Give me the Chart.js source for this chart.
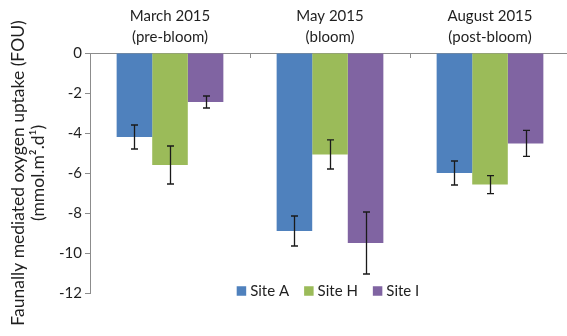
<!DOCTYPE html>
<html>
<head>
<meta charset="utf-8">
<script src="https://cdn.jsdelivr.net/npm/chart.js@4/dist/chart.umd.min.js"></script>
<style>
  html, body { margin: 0; padding: 0; overflow: hidden; background: #fff; }
  #wrap { width: 570px; height: 336px; position: relative; }
</style>
</head>
<body>
<div id="wrap"><canvas id="c"></canvas></div>
<script>
// Sampling periods (two-line labels above the bars)
const periods = [["March 2015", "(pre-bloom)"], ["May 2015", "(bloom)"], ["August 2015", "(post-bloom)"]];
const sites = ["Site A", "Site H", "Site I"];
const siteColors = ["#4F81BD", "#9BBB59", "#8064A2"];

// Faunally mediated oxygen uptake, mean per site and period
const siteA = [-4.2, -8.9, -6.0];
const siteH = [-5.6, -5.07, -6.58];
const siteI = [-2.45, -9.5, -4.52];

// Error bar half-widths (same units)
const errA = [0.6, 0.75, 0.6];
const errH = [0.95, 0.73, 0.45];
const errI = [0.3, 1.55, 0.65];

const yTicks = [0, -2, -4, -6, -8, -10, -12];

const FONT = "Lato, 'Open Sans', sans-serif";
const TEXT = "#1f1f1f";
const AXIS = "#8c8c8c";

const values = [siteA, siteH, siteI];
const errors = [errA, errH, errI];

// Whiskers drawn on top of each bar
const errorBars = {
  id: 'errorBars',
  afterDatasetsDraw(chart) {
    const ctx = chart.ctx;
    const y = chart.scales.y;
    ctx.save();
    ctx.strokeStyle = "#1a1a1a";
    ctx.lineWidth = 1.3;
    chart.data.datasets.forEach((ds, di) => {
      const meta = chart.getDatasetMeta(di);
      meta.data.forEach((bar, i) => {
        const v = ds.data[i], e = errors[di][i];
        const x = Math.round(bar.x) + 0.5;
        const y1 = y.getPixelForValue(v + e);
        const y2 = y.getPixelForValue(v - e);
        ctx.beginPath();
        ctx.moveTo(x, y1); ctx.lineTo(x, y2);
        ctx.moveTo(x - 3.5, y1); ctx.lineTo(x + 3.5, y1);
        ctx.moveTo(x - 3.5, y2); ctx.lineTo(x + 3.5, y2);
        ctx.stroke();
      });
    });
    ctx.restore();
  }
};

// Short separators hanging below the zero line between periods
const categoryTicks = {
  id: 'categoryTicks',
  afterDraw(chart) {
    const x = chart.scales.x;
    const ctx = chart.ctx;
    const n = periods.length;
    const step = (x.right - x.left) / n;
    ctx.save();
    ctx.strokeStyle = AXIS;
    ctx.lineWidth = 1;
    for (let i = 1; i < n; i++) {
      const px = Math.round(x.left + i * step) + 0.5;
      ctx.beginPath();
      ctx.moveTo(px, x.bottom);
      ctx.lineTo(px, x.bottom + 5);
      ctx.stroke();
    }
    ctx.restore();
  }
};

// Legend laid over the lower part of the plot
const siteLegend = {
  id: 'siteLegend',
  afterDraw(chart) {
    const ctx = chart.ctx;
    const area = chart.chartArea;
    ctx.save();
    ctx.font = "15px " + FONT;
    ctx.textBaseline = "middle";
    const box = 9.5, gap = 4, between = 15;
    const widths = sites.map(s => ctx.measureText(s).width);
    const total = widths.reduce((a, w) => a + box + gap + w, 0) + between * (sites.length - 1);
    let x = (area.left + area.right) / 2 - total / 2 - 2;
    const cy = 291;
    sites.forEach((s, i) => {
      ctx.fillStyle = siteColors[i];
      ctx.fillRect(x, cy - box / 2, box, box);
      ctx.fillStyle = TEXT;
      ctx.fillText(s, x + box + gap, cy);
      x += box + gap + widths[i] + between;
    });
    ctx.restore();
  }
};

new Chart(document.getElementById('c'), {
  type: 'bar',
  data: {
    labels: periods,
    datasets: sites.map((s, i) => ({
      label: s,
      data: values[i],
      backgroundColor: siteColors[i],
      borderWidth: 0,
      barPercentage: 1.0,
      categoryPercentage: 0.667
    }))
  },
  options: {
    responsive: true,
    maintainAspectRatio: false,
    animation: false,
    layout: { padding: { left: 0, right: 0, top: 0, bottom: 43 } },
    plugins: {
      legend: { display: false },
      tooltip: { enabled: false }
    },
    scales: {
      x: {
        position: 'top',
        grid: { display: false, drawTicks: false },
        border: { display: true, color: AXIS, width: 1 },
        ticks: {
          color: TEXT,
          padding: 5,
          font: { family: FONT, size: 15, lineHeight: 1.4 },
          maxRotation: 0, autoSkip: false
        },
        afterFit(scale) { scale.height = 53; }
      },
      y: {
        min: -12, max: 0,
        afterBuildTicks(scale) { scale.ticks = yTicks.map(v => ({ value: v })); },
        grid: { display: true, drawOnChartArea: false, drawTicks: true, tickLength: 5, color: AXIS },
        border: { display: true, color: AXIS, width: 1 },
        ticks: {
          color: TEXT,
          padding: 3,
          font: { family: FONT, size: 15 }
        },
        title: {
          display: true,
          text: ["Faunally mediated oxygen uptake (FOU)", "(mmol.m\u00B2.d\u00B9)"],
          color: TEXT,
          font: { family: FONT, size: 17.5, lineHeight: 1.15 },
          padding: { top: 8, bottom: 0 }
        },
        afterFit(scale) { scale.width = 90; }
      }
    }
  },
  plugins: [errorBars, categoryTicks, siteLegend]
});
</script>
</body>
</html>
